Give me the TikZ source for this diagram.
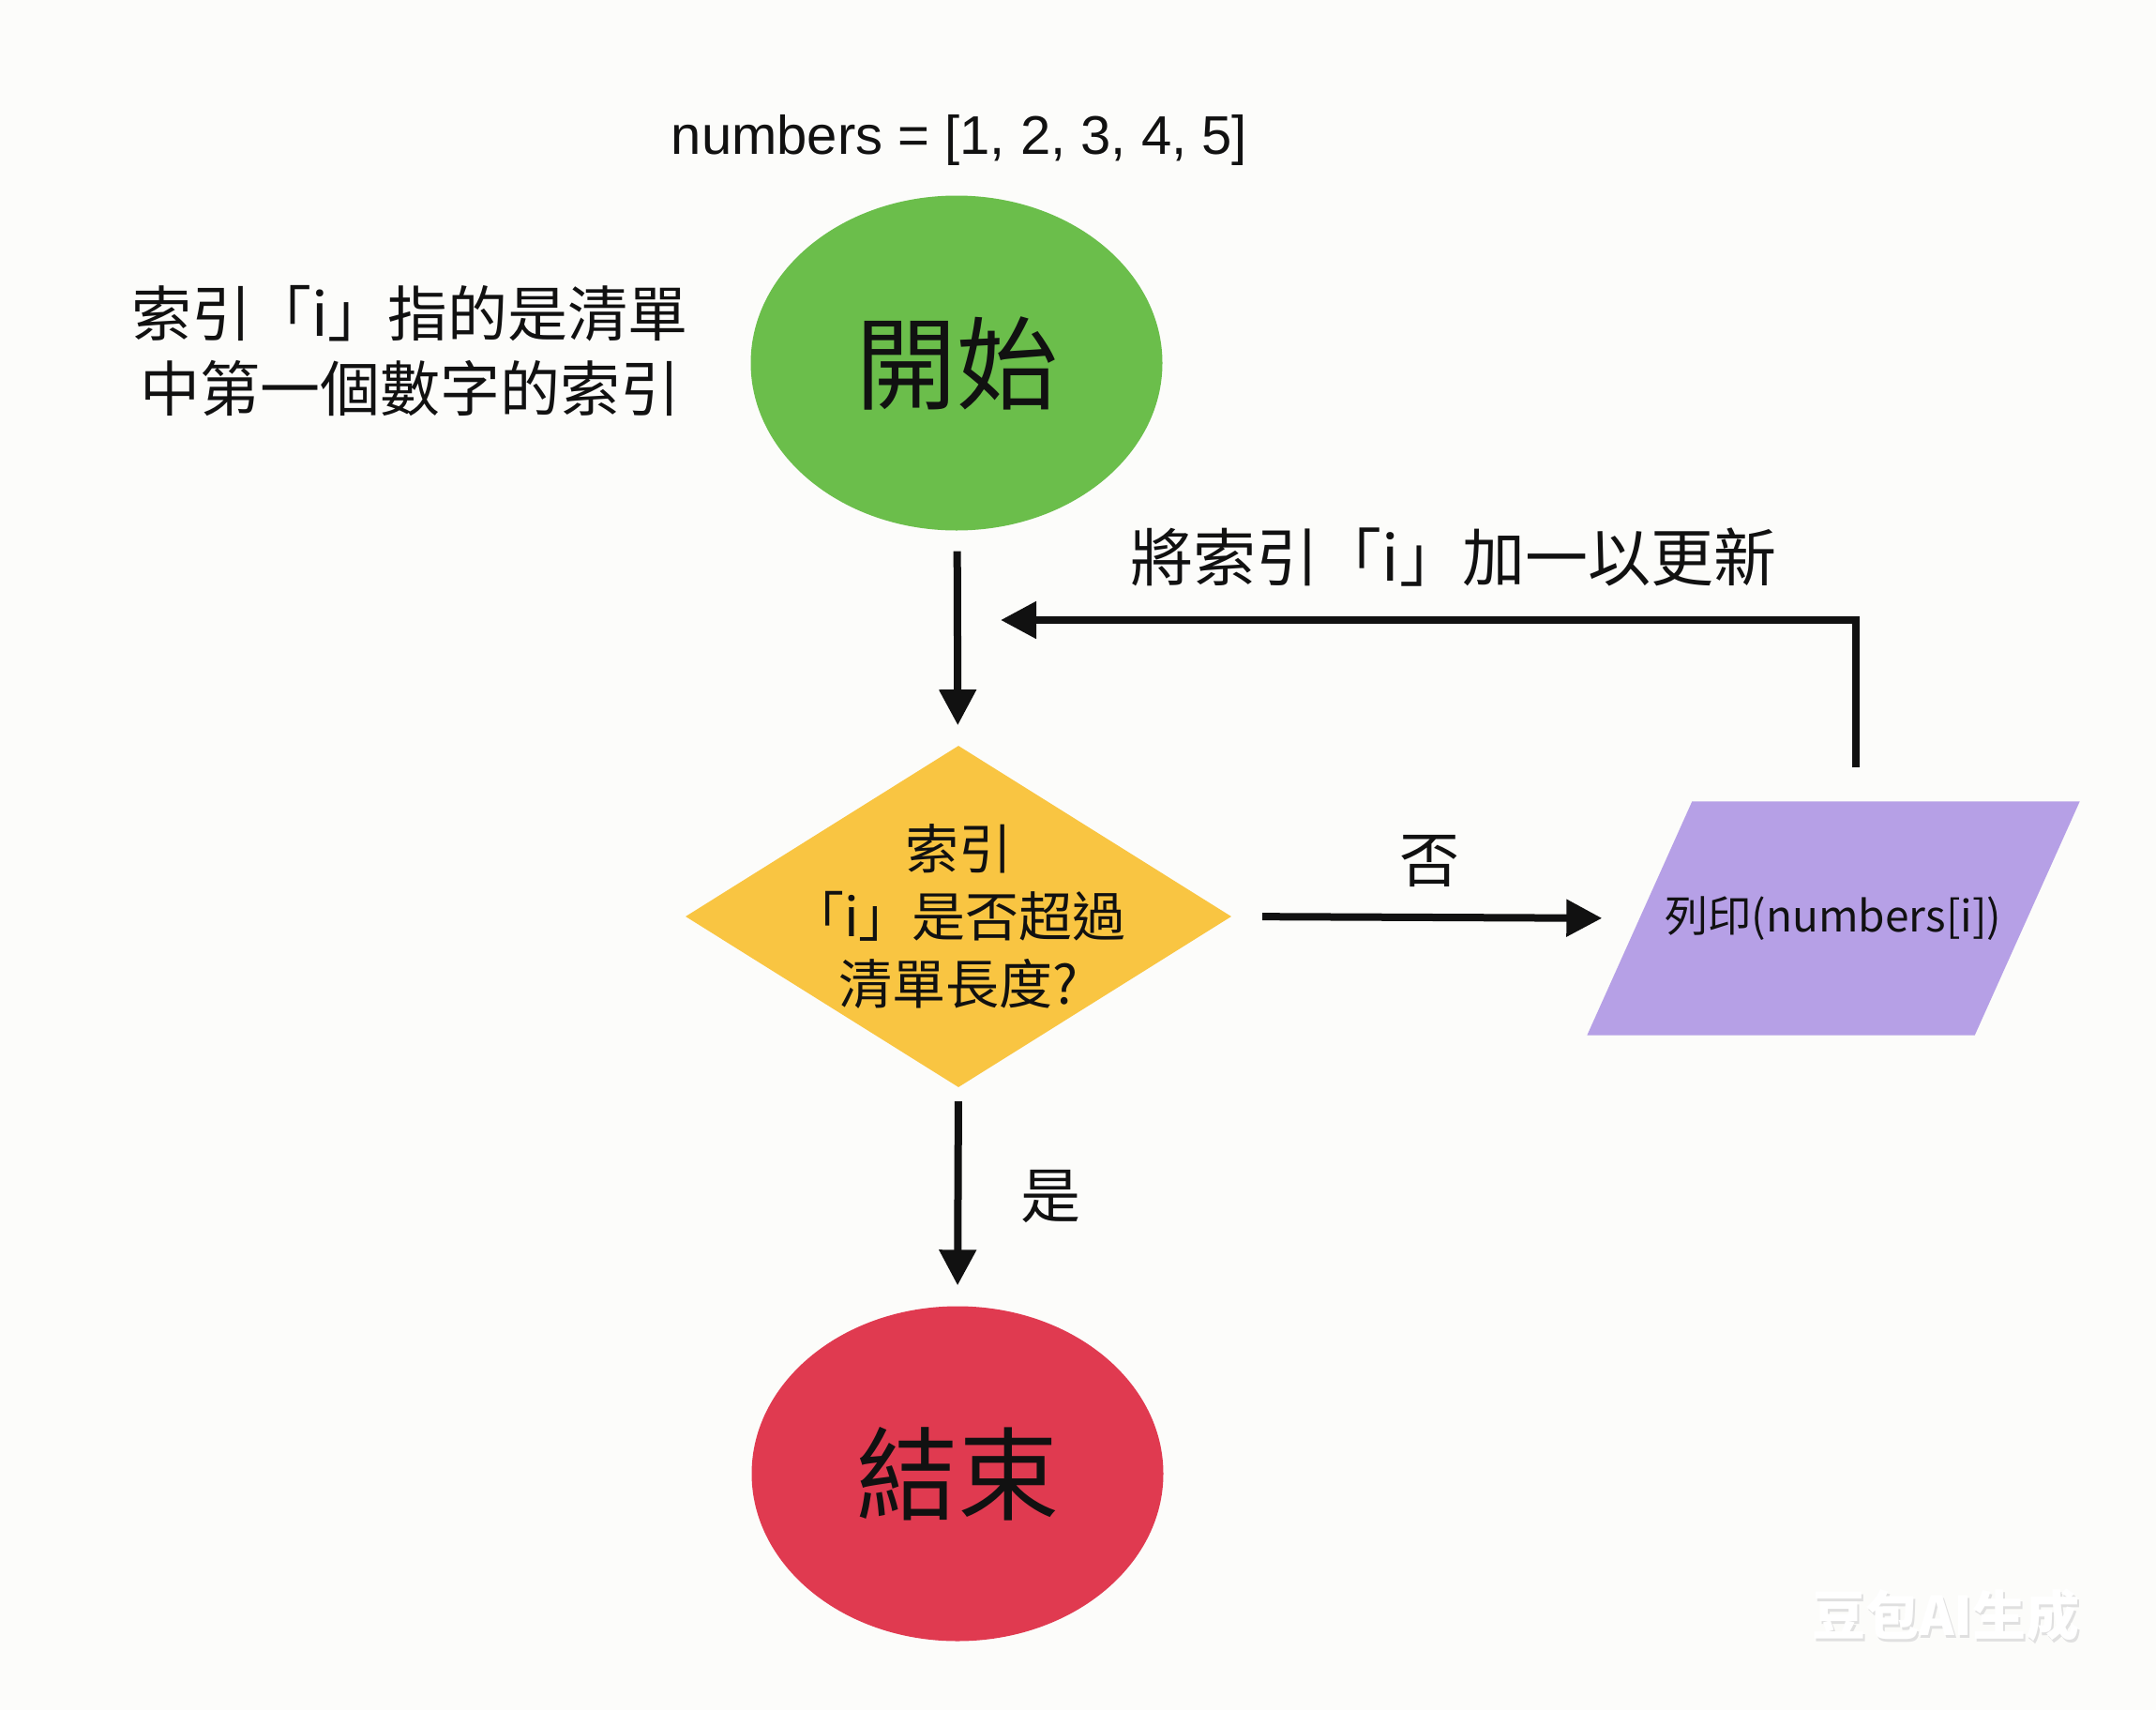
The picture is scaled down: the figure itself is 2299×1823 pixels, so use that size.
\documentclass[tikz,border=0pt]{standalone}
\usepackage{fontspec}
\setmainfont{Liberation Sans}
\newfontfamily\cjk{Noto Sans CJK TC}
\newfontfamily\wmfont{Noto Sans CJK SC}
\usetikzlibrary{shapes.geometric,arrows.meta}
\pgfdeclarelayer{back}
\pgfsetlayers{back,main}
\definecolor{bgc}{HTML}{FCFCFA}
\definecolor{startc}{HTML}{6BBE4B}
\definecolor{decc}{HTML}{F9C542}
\definecolor{ioc}{HTML}{B6A0E6}
\definecolor{endc}{HTML}{E03A50}
\definecolor{ink}{HTML}{111111}
\begin{document}
\begin{tikzpicture}[x=1pt,y=-1pt,
  conn/.style={draw=ink,line width=8pt,-{Triangle[length=38pt,width=38pt]}},
  terminal/.style={ellipse,minimum width=439pt,minimum height=357pt,inner sep=0pt,text=ink,
    font=\cjk\fontsize{108pt}{120pt}\selectfont},
  lbl/.style={text=ink,font=\cjk\fontsize{64pt}{80pt}\selectfont,inner sep=0pt},
]
\begin{pgfonlayer}{back}
\fill[bgc] (0,0) rectangle (2299,1823);
\end{pgfonlayer}
\useasboundingbox (0,0) rectangle (2299,1823);

% title
\node[text=ink,font=\fontsize{58pt}{66pt}\selectfont,inner sep=0pt] (arr) at (1023,150) {numbers = [1, 2, 3, 4, 5]};

% note
\node[lbl,align=center] (note) at (437,374) {索引「i」指的是清單\\中第一個數字的索引};

% start / end
\node[terminal,fill=startc] (start) at (1020,387) {開始};
\node[terminal,fill=endc] (stop) at (1021,1571) {結束};

% decision
\node[diamond,fill=decc,minimum width=582pt,minimum height=364pt,inner sep=0pt,
  label={[text=ink,font=\cjk\fontsize{57pt}{72pt}\selectfont,align=center]center:索引\\「i」是否超過\\清單長度?}] (dec) at (1022,977) {};

% output (parallelogram)
\node[minimum width=413pt,minimum height=249pt,inner sep=0pt,text=ink,
  font=\cjk\fontsize{46pt}{56pt}\selectfont] (out) at (1955,979) {列印(numbers[i])};
\begin{pgfonlayer}{back}
\fill[ioc] ([xshift=56pt]out.north west) -- ([xshift=56pt]out.north east)
  -- ([xshift=-56pt]out.south east) -- ([xshift=-56pt]out.south west) -- cycle;
\end{pgfonlayer}

% connectors
\draw[conn,shorten <=22pt,shorten >=22pt] (start) -- (dec);
\draw[conn,shorten <=33pt,shorten >=40pt] (dec.east) -- (out.west);
\draw[conn,shorten <=15pt,shorten >=22pt] (dec.south) -- (stop.north);
\coordinate (loopin) at (1067,661);
\draw[conn,line join=miter] ([xshift=24pt,yshift=36pt]out.north) |- (loopin);

% connector labels
\node[lbl] (no) at (1524,918) {否};
\node[lbl] (yes) at (1120,1276) {是};
\node[lbl,font=\cjk\fontsize{67pt}{80pt}\selectfont] (upd) at (1550,594) {將索引「i」加一以更新};

% watermark
\node[text=black!12,font=\wmfont\bfseries\fontsize{57pt}{60pt}\selectfont,inner sep=0pt] (wms) at (2077,1725) {豆包AI生成};
\node[text=white,font=\wmfont\bfseries\fontsize{57pt}{60pt}\selectfont,inner sep=0pt] (wm) at (2075,1722) {豆包AI生成};
\end{tikzpicture}
\end{document}
